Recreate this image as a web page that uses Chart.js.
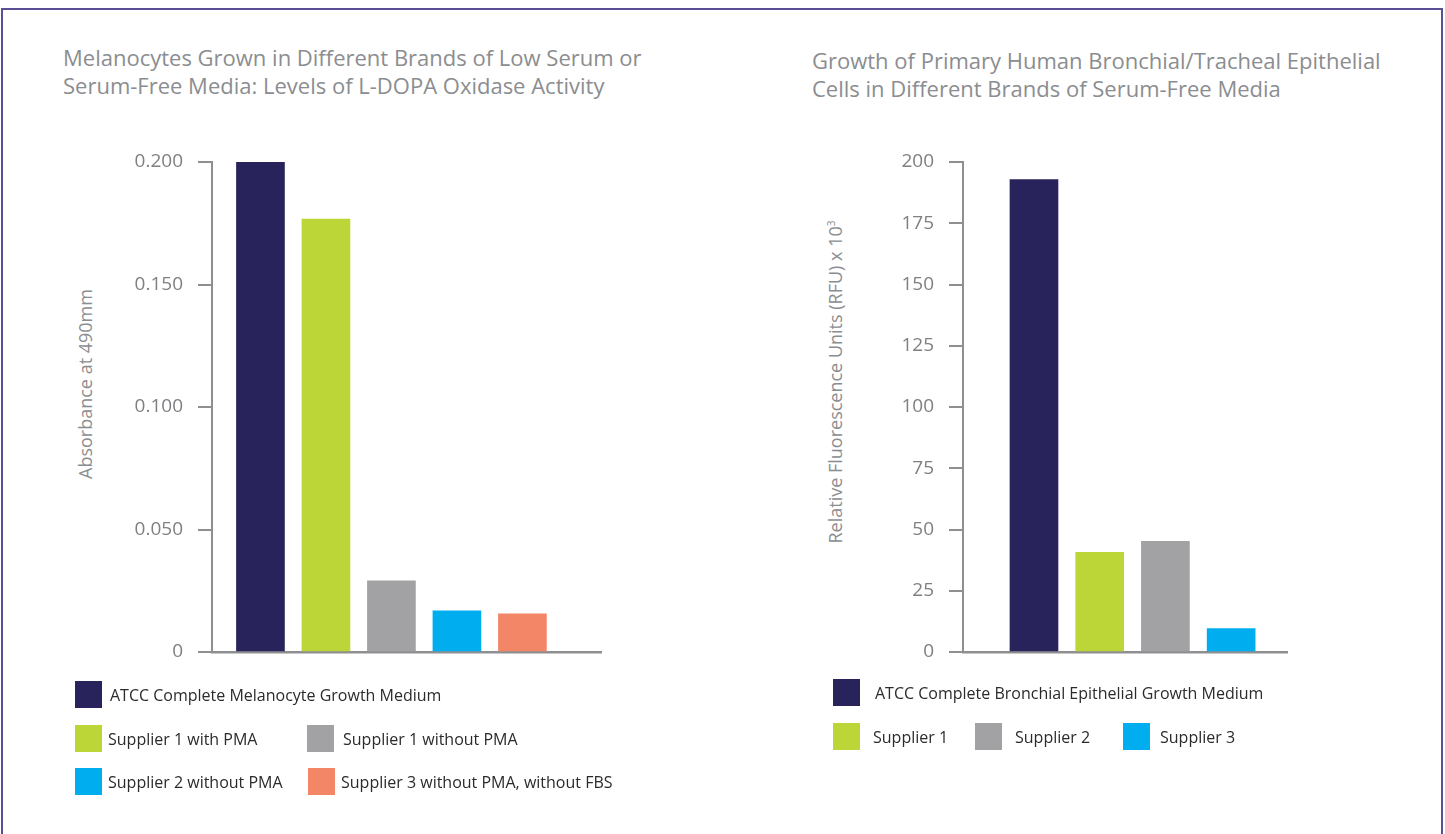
<!DOCTYPE html>
<html>
<head>
<meta charset="utf-8">
<script src="https://cdn.jsdelivr.net/npm/chart.js@4/dist/chart.umd.min.js"></script>
<style>
  html, body { margin: 0; padding: 0; background: #fff; }
  body { width: 1445px; height: 834px; position: relative; overflow: hidden; font-family: "Open Sans", sans-serif; }
  #frame { position: absolute; left: 1px; top: 8px; width: 1438px; height: 900px; border: 2px solid #5a4f95; border-bottom: none; }
  .title { position: absolute; color: #8b8d90; font-size: 22px; line-height: 28px; white-space: nowrap; }
  .ytitle { position: absolute; color: #8b8d90; font-size: 18px; white-space: nowrap; transform: translate(-50%, -50%) rotate(-90deg); }
  .ytitle sup { font-size: 10px; }
  .wrap { position: absolute; top: 0; height: 834px; }
  .leg { position: absolute; display: flex; align-items: center; height: 27px; }
  .leg .box { width: 27px; height: 27px; }
  .leg span { color: #2b2b2b; font-size: 16px; white-space: nowrap; }
</style>
</head>
<body>
<div id="frame"></div>

<div class="title" style="left:63px; top:43px;">Melanocytes Grown in Different Brands of Low Serum or<br>Serum-Free Media: Levels of L-DOPA Oxidase Activity</div>
<div class="title" style="left:812px; top:46px;">Growth of Primary Human Bronchial/Tracheal Epithelial<br>Cells in Different Brands of Serum-Free Media</div>

<div class="ytitle" style="left:85px; top:384px;">Absorbance at 490mm</div>
<div class="ytitle" style="left:835px; top:382px;">Relative Fluorescence Units (RFU) x 10<sup>3</sup></div>

<div class="wrap" style="left:0; width:720px;"><canvas id="melano"></canvas></div>
<div class="wrap" style="left:720px; width:725px;"><canvas id="bronch"></canvas></div>

<div id="legends"></div>

<script>
// melanocyte chart
const melanoLabels = ["ATCC Complete Melanocyte Growth Medium", "Supplier 1 with PMA", "Supplier 1 without PMA", "Supplier 2 without PMA", "Supplier 3 without PMA, without FBS"];
const melanoValues = [0.2, 0.1767, 0.029, 0.0168, 0.0156];
const melanoColors = ["#28235b", "#bcd637", "#a2a2a4", "#00aeef", "#f48668"];

// bronchial chart
const bronchLabels = ["ATCC Complete Bronchial Epithelial Growth Medium", "Supplier 1", "Supplier 2", "Supplier 3"];
const bronchValues = [192.8, 40.7, 45.2, 9.6];
const bronchColors = ["#28235b", "#bcd637", "#a2a2a4", "#00aeef"];

const axisGray = "#8d8f91";
const tickGray = "#7e8083";

// legend placement (page px): left, top, gap before text
const melanoLegendPos = [[75, 681, 8], [75, 725, 6], [307, 725, 9], [75, 768, 6], [308, 768, 6]];
const bronchLegendPos = [[833, 679, 15], [833, 723, 13], [975, 723, 13], [1123, 723, 10]];

function addLegend(labels, colors, pos){
    var holder = document.getElementById("legends");
    labels.forEach(function(lbl, i){
        var d = document.createElement("div");
        d.className = "leg";
        d.style.left = pos[i][0] + "px";
        d.style.top = pos[i][1] + "px";
        d.innerHTML = '<div class="box" style="background:' + colors[i] + '"></div>' +
            '<span style="margin-left:' + pos[i][2] + 'px">' + lbl + '</span>';
        holder.appendChild(d);
    });
}

function drawBars(id, values, colors, opts){
    var pts = values.map(function(v, i){ return {x: i + 1, y: v}; });
    return new Chart(document.getElementById(id), {
        type: 'bar',
        data: {
            datasets: [{
                data: pts,
                backgroundColor: colors,
                barThickness: 48,
                borderWidth: 0
            }]
        },
        options: {
            responsive: true,
            maintainAspectRatio: false,
            animation: false,
            layout: { padding: opts.padding },
            plugins: { legend: { display: false }, tooltip: { enabled: false } },
            scales: {
                x: {
                    type: 'linear',
                    offset: false,
                    min: opts.xMin,
                    max: opts.xMax,
                    ticks: { display: false },
                    grid: { display: false, offset: false },
                    border: { display: true, color: axisGray, width: 2.5 },
                    afterFit: function(s){ s.height = 0; }
                },
                y: {
                    min: 0,
                    max: opts.yMax,
                    ticks: {
                        stepSize: opts.step,
                        color: tickGray,
                        padding: 15,
                        font: { family: "Open Sans", size: 19 },
                        callback: opts.fmt
                    },
                    grid: {
                        drawOnChartArea: false,
                        drawTicks: true,
                        tickLength: 14,
                        color: axisGray,
                        lineWidth: 2
                    },
                    border: { display: true, color: axisGray, width: 2 },
                    afterFit: function(s){ s.width = opts.yWidth; }
                }
            }
        }
    });
}

drawBars("melano", melanoValues, melanoColors, {
    padding: { top: 162, bottom: 182, left: 0, right: 119 },
    xMin: 0.26, xMax: 6.2, yMax: 0.2, step: 0.05, yWidth: 212,
    fmt: function(v){ return v === 0 ? "0" : v.toFixed(3); }
});

drawBars("bronch", bronchValues, bronchColors, {
    padding: { top: 162, bottom: 182, left: 0, right: 158 },
    xMin: -0.08, xMax: 4.85, yMax: 200, step: 25, yWidth: 243,
    fmt: function(v){ return String(v); }
});

addLegend(melanoLabels, melanoColors, melanoLegendPos);
addLegend(bronchLabels, bronchColors, bronchLegendPos);
</script>
</body>
</html>
